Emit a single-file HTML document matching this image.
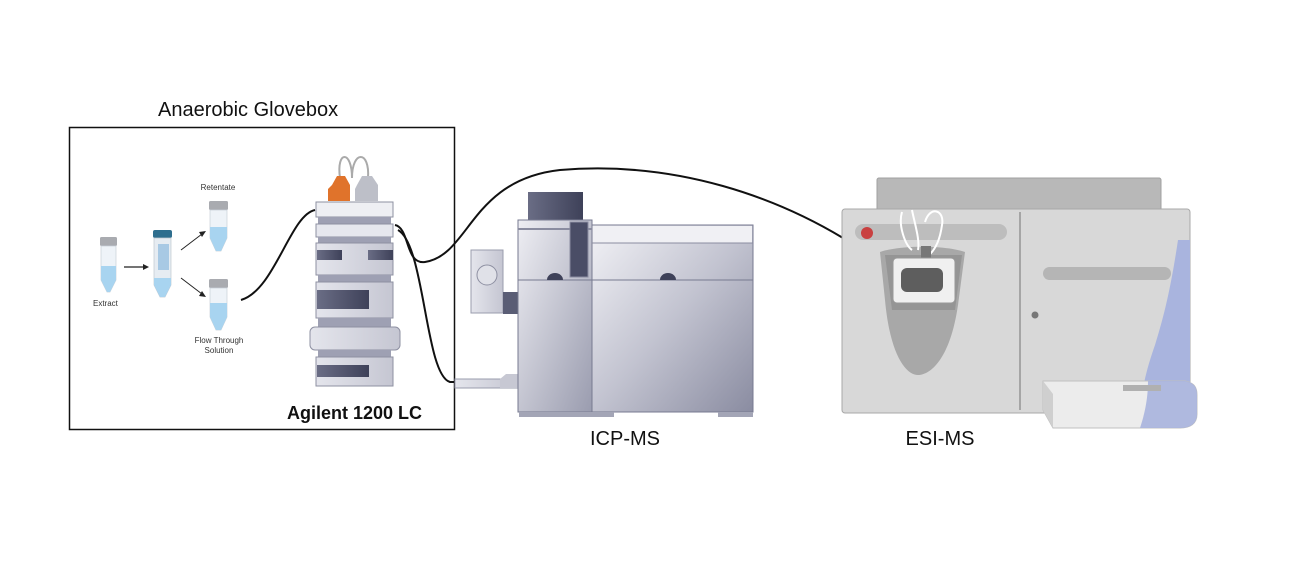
<!DOCTYPE html>
<html><head><meta charset="utf-8"><style>
html,body{margin:0;padding:0;background:#fff;}
svg{display:block;font-family:"Liberation Sans",sans-serif;}
</style></head><body>
<svg width="1290" height="574" viewBox="0 0 1290 574" xmlns="http://www.w3.org/2000/svg">
<defs>
<linearGradient id="gm" x1="0" y1="0" x2="1" y2="1"><stop offset="0" stop-color="#eeeef3"/><stop offset="1" stop-color="#9a9caf"/></linearGradient>
<linearGradient id="gr" x1="0" y1="0" x2="1" y2="1"><stop offset="0" stop-color="#f2f2f6"/><stop offset="0.5" stop-color="#c2c3d0"/><stop offset="1" stop-color="#8a8ca1"/></linearGradient>
<linearGradient id="gd" x1="0" y1="0" x2="1" y2="0"><stop offset="0" stop-color="#6a6d85"/><stop offset="1" stop-color="#3e4159"/></linearGradient>
<linearGradient id="gl" x1="0" y1="0" x2="1" y2="0"><stop offset="0" stop-color="#e4e5ec"/><stop offset="1" stop-color="#c5c6d2"/></linearGradient>
</defs>

<text x="158" y="116" font-size="20" fill="#111">Anaerobic Glovebox</text>
<rect x="69.5" y="127.5" width="385" height="302" fill="none" stroke="#111" stroke-width="1.5"/>

<g>
<rect x="100" y="237" width="17" height="9" rx="1.5" fill="#a9abb0"/>
<path d="M101 246 H116 V280 L110 292 H107 L101 280 Z" fill="#eef3f8" stroke="#c8d0d8" stroke-width="0.7"/>
<path d="M101 266 H116 V280 L110 292 H107 L101 280 Z" fill="#a8d4f0"/>
<text x="93" y="306" font-size="8" fill="#333">Extract</text>
<line x1="124" y1="267" x2="145" y2="267" stroke="#222" stroke-width="1.2"/><path d="M149 267 L143 264 L143 270Z" fill="#222"/>
<rect x="153" y="230" width="19" height="8" rx="2" fill="#2e6e8e"/>
<path d="M154 238 H171 V285 L165 297 H160 L154 285 Z" fill="#e6ecf2" stroke="#c0c8d0" stroke-width="0.7"/>
<rect x="158" y="244" width="11" height="26" fill="#98c0e0" opacity="0.8"/>
<path d="M154 278 H171 V285 L165 297 H160 L154 285 Z" fill="#a8d4f0"/>
<line x1="181" y1="250" x2="202" y2="234" stroke="#222" stroke-width="1"/><path d="M206 231 L199 232 L202 237Z" fill="#222"/>
<line x1="181" y1="278" x2="202" y2="294" stroke="#222" stroke-width="1"/><path d="M206 297 L199 296 L202 291Z" fill="#222"/>
<text x="218" y="190" font-size="8" fill="#333" text-anchor="middle">Retentate</text>
<rect x="209" y="201" width="19" height="9" rx="1.5" fill="#a9abb0"/>
<path d="M210 210 H227 V238 L221 251 H216 L210 238 Z" fill="#eef3f8" stroke="#c8d0d8" stroke-width="0.7"/>
<path d="M210 227 H227 V238 L221 251 H216 L210 238 Z" fill="#a8d4f0"/>
<rect x="209" y="279" width="19" height="9" rx="1.5" fill="#a9abb0"/>
<path d="M210 288 H227 V317 L221 330 H216 L210 317 Z" fill="#eef3f8" stroke="#c8d0d8" stroke-width="0.7"/>
<path d="M210 303 H227 V317 L221 330 H216 L210 317 Z" fill="#a8d4f0"/>
<text x="219" y="343" font-size="8" fill="#333" text-anchor="middle">Flow Through</text>
<text x="219" y="353" font-size="8" fill="#333" text-anchor="middle">Solution</text>
</g>

<g>
<path d="M340 178 C336 150 352 150 352 178 M352 178 C352 150 370 150 368 178" fill="none" stroke="#aaa" stroke-width="2"/>
<path d="M332 185 L337 176 H345 L350 185 V201 H328 V189Z" fill="#e0732b"/>
<path d="M357 185 L362 176 H372 L378 185 V201 H355 V189Z" fill="#bdbfc8"/>
<rect x="316" y="202" width="77" height="15" fill="#eeeff3" stroke="#8e90a2"/>
<rect x="318" y="217" width="73" height="7" fill="#9ea0b3"/>
<rect x="316" y="224" width="77" height="13" fill="#e6e7ee" stroke="#8e90a2"/>
<rect x="318" y="237" width="73" height="6" fill="#9ea0b3"/>
<rect x="316" y="243" width="77" height="32" fill="url(#gl)" stroke="#8e90a2"/>
<rect x="317" y="250" width="25" height="10" fill="url(#gd)"/><rect x="368" y="250" width="25" height="10" fill="url(#gd)"/>
<rect x="318" y="275" width="73" height="7" fill="#9ea0b3"/>
<rect x="316" y="282" width="77" height="36" fill="url(#gl)" stroke="#8e90a2"/>
<rect x="317" y="290" width="52" height="19" fill="url(#gd)"/>
<rect x="318" y="318" width="73" height="9" fill="#9ea0b3"/>
<rect x="310" y="327" width="90" height="23" rx="5" fill="url(#gl)" stroke="#8e90a2"/>
<rect x="318" y="350" width="73" height="7" fill="#9ea0b3"/>
<rect x="316" y="357" width="77" height="29" fill="url(#gl)" stroke="#8e90a2"/>
<rect x="317" y="365" width="52" height="12" fill="url(#gd)"/>
</g>
<text x="287" y="419" font-size="18" font-weight="bold" fill="#111">Agilent 1200 LC</text>

<g fill="none" stroke="#111" stroke-width="2">
<path d="M241 300 C275 290 290 215 315 210"/>
<path d="M395 225 C410 228 405 265 425 262 C470 255 470 180 560 170 C680 160 780 200 843 238"/>
<path d="M398 230 C425 245 425 375 450 382 H456"/>
</g>

<g>
<rect x="455" y="379" width="63" height="9" fill="url(#gl)" stroke="#9a9cad"/>
<path d="M500 379 L506 374 H518 V388 H500Z" fill="#c7c8d3"/>
<rect x="471" y="250" width="32" height="63" fill="url(#gl)" stroke="#9a9cad"/>
<rect x="503" y="292" width="16" height="22" fill="#5a5d75"/>
<ellipse cx="487" cy="275" rx="10" ry="10" fill="#e0e1e8" stroke="#8e90a2"/>
<rect x="528" y="192" width="55" height="30" fill="url(#gd)"/>
<rect x="518" y="220" width="74" height="192" fill="url(#gm)" stroke="#777a90"/>
<rect x="592" y="225" width="161" height="187" fill="url(#gr)" stroke="#777a90"/>
<rect x="593" y="226" width="159" height="17" fill="#f0f0f4"/>
<line x1="592" y1="243" x2="753" y2="243" stroke="#8a8ca0"/>
<line x1="518" y1="280" x2="753" y2="280" stroke="#777a90"/>
<line x1="518" y1="229" x2="592" y2="229" stroke="#8a8ca0" stroke-width="2"/>
<rect x="570" y="222" width="18" height="55" fill="#4a4d66" stroke="#8a8ca0"/>
<path d="M547 280 A8 7 0 0 1 563 280Z" fill="#3e4159"/>
<path d="M660 280 A8 7 0 0 1 676 280Z" fill="#3e4159"/>
<rect x="519" y="412" width="95" height="5" fill="#a3a5b6"/>
<rect x="718" y="412" width="35" height="5" fill="#a3a5b6"/>
</g>
<text x="625" y="445" font-size="20" fill="#111" text-anchor="middle">ICP-MS</text>

<g>
<rect x="877" y="178" width="284" height="33" rx="2" fill="#b8b8b8" stroke="#a0a0a0"/>
<rect x="842" y="209" width="348" height="204" rx="3" fill="#d8d8d8" stroke="#a8a8a8"/>
<path d="M1178 240 H1190 V413 H1140 C1142 385 1148 365 1155 345 C1166 310 1172 280 1178 240Z" fill="#a9b4de"/>
<line x1="1020" y1="212" x2="1020" y2="410" stroke="#a5a5a5" stroke-width="2"/>
<rect x="855" y="224" width="152" height="16" rx="8" fill="#bdbdbd"/>
<circle cx="867" cy="233" r="6" fill="#c94040"/>
<path d="M880 252 C900 245 945 245 965 252 L958 305 C950 360 930 375 918 375 C906 375 890 355 885 300Z" fill="#a8a8a8"/>
<path d="M885 255 H962 L955 310 H892Z" fill="#959595"/>
<path d="M902 212 C898 225 905 245 912 250 M912 210 C915 225 920 240 918 250 M925 222 C930 205 945 210 942 225 C940 240 935 252 925 258" fill="none" stroke="#fff" stroke-width="2"/>
<rect x="921" y="246" width="10" height="12" fill="#777"/>
<rect x="893" y="258" width="62" height="45" rx="4" fill="#f0f0f0" stroke="#999"/>
<rect x="901" y="268" width="42" height="24" rx="6" fill="#5e5e5e"/>
<rect x="1043" y="267" width="128" height="13" rx="6.5" fill="#b5b5b5"/>
<circle cx="1035" cy="315" r="3.5" fill="#777"/>
<path d="M1043 381 H1185 C1195 383 1197 388 1197 395 V414 C1197 424 1190 428 1180 428 H1053 L1043 410Z" fill="#ececec" stroke="#c0c0c0"/>
<path d="M1148 381 H1185 C1195 383 1197 388 1197 395 V414 C1197 424 1190 428 1180 428 H1140 C1146 410 1148 395 1148 381Z" fill="#a9b4de" opacity="0.9"/>
<path d="M1043 381 L1053 394 V428 L1043 410Z" fill="#cfcfcf"/>
<rect x="1123" y="385" width="38" height="6" fill="#b0b0b0"/>
</g>
<text x="940" y="445" font-size="20" fill="#111" text-anchor="middle">ESI-MS</text>
</svg>
</body></html>
